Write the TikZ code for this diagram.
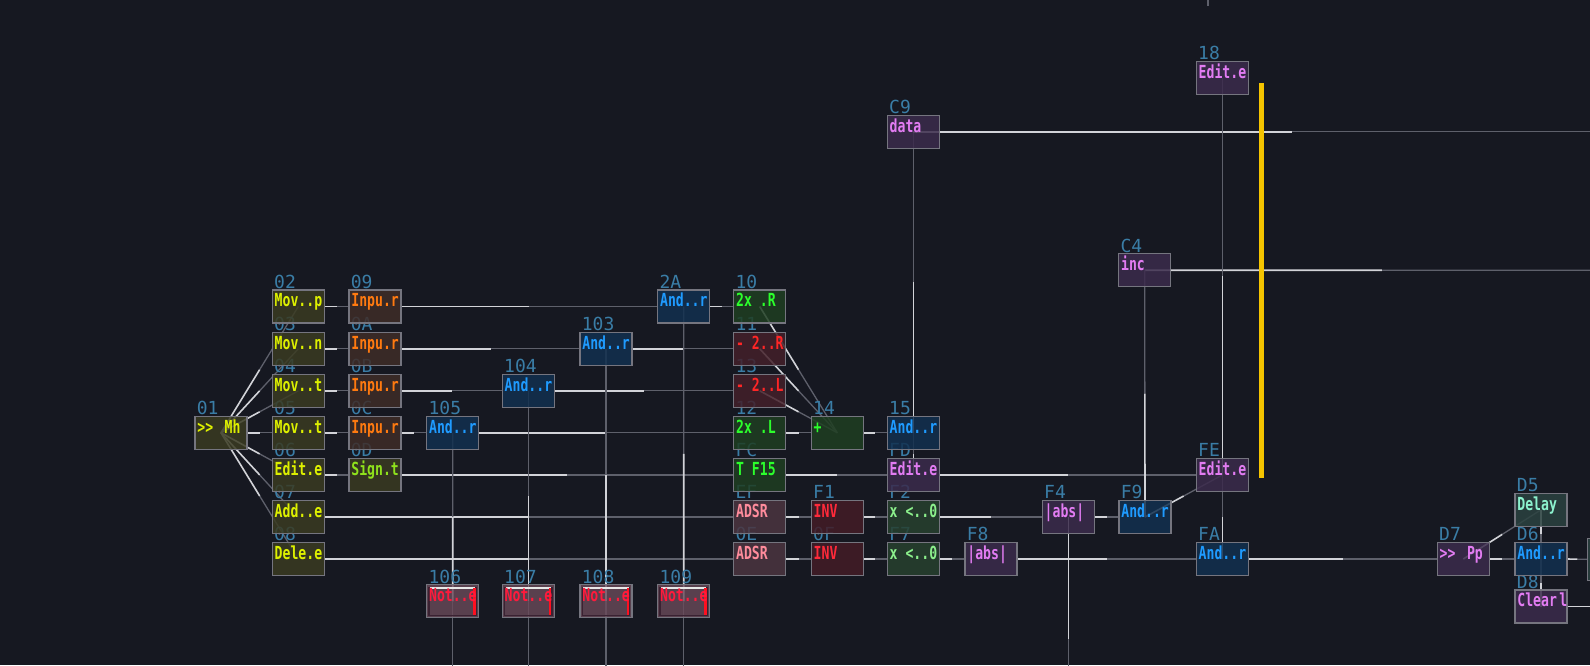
\documentclass[tikz,border=0pt]{standalone}
\usepackage{fontspec}
\usetikzlibrary{calc}
\newfontfamily\monof{DejaVu Sans Mono}
\newfontfamily\boxf[FakeStretch=0.73]{DejaVu Sans Mono Bold}
\definecolor{bgc}{HTML}{161821}
\definecolor{labc}{HTML}{3A7DA6}
\definecolor{boxline}{HTML}{75757F}
\definecolor{wbright}{HTML}{D2D3D8}
\definecolor{wdim}{HTML}{5E606B}
\definecolor{fyel}{HTML}{3A3B22}\definecolor{tyel}{HTML}{DDF000}
\definecolor{forg}{HTML}{3F2C27}\definecolor{torg}{HTML}{FF7A10}
\definecolor{tsgn}{HTML}{8FE21C}
\definecolor{fblu}{HTML}{12304F}\definecolor{tblu}{HTML}{1F9BFF}
\definecolor{fgrn}{HTML}{1F3E22}\definecolor{tgrn}{HTML}{2CFF2C}
\definecolor{frd}{HTML}{43202A}\definecolor{trd}{HTML}{FF2626}
\definecolor{fads}{HTML}{4B3540}\definecolor{tads}{HTML}{FF8C9C}
\definecolor{finv}{HTML}{431C26}\definecolor{tinv}{HTML}{FF2A3A}
\definecolor{fxlt}{HTML}{27402F}\definecolor{txlt}{HTML}{8CF08C}
\definecolor{fpur}{HTML}{3B2B4C}\definecolor{tpur}{HTML}{E27CF2}
\definecolor{ftea}{HTML}{2B4240}\definecolor{ttea}{HTML}{8CF2CE}
\definecolor{fnot}{HTML}{6A4A5A}\definecolor{tnot}{HTML}{FF1A3C}
\definecolor{notin}{HTML}{3A2232}\definecolor{notbar}{HTML}{FF1020}
\definecolor{notline}{HTML}{E8E8E8}
\definecolor{ylw}{HTML}{F5C400}
\pgfdeclarelayer{bg}\pgfdeclarelayer{wires}\pgfdeclarelayer{labels}
\pgfsetlayers{bg,wires,labels,main}
\tikzset{
 box/.style={draw=boxline, line width=0.65pt, fill opacity=0.85, minimum width=26pt,
   minimum height=16.5pt, inner sep=0pt, outer sep=0pt, anchor=north west},
 idlab/.style={text=labc, font=\monof\fontsize{9}{9}\selectfont, inner sep=0pt, anchor=base west},
 btxt/.style={font=\boxf\fontsize{9}{9}\selectfont, inner sep=0pt, anchor=base west},
 wb/.style={draw=wbright, line width=0.8pt},
 wd/.style={draw=wdim, line width=0.65pt},
 cyel/.style={fill=fyel}, cyel t/.style={text=tyel},
 corg/.style={fill=forg}, corg t/.style={text=torg},
 csgn/.style={fill=fyel}, csgn t/.style={text=tsgn},
 cblu/.style={fill=fblu}, cblu t/.style={text=tblu},
 cgrn/.style={fill=fgrn}, cgrn t/.style={text=tgrn},
 crd/.style={fill=frd}, crd t/.style={text=trd},
 cads/.style={fill=fads}, cads t/.style={text=tads},
 cinv/.style={fill=finv}, cinv t/.style={text=tinv},
 cxlt/.style={fill=fxlt}, cxlt t/.style={text=txlt},
 cpur/.style={fill=fpur}, cpur t/.style={text=tpur},
 ctea/.style={fill=ftea}, ctea t/.style={text=ttea},
 cnot/.style={fill=fnot, fill opacity=0.8}, cnot t/.style={text=tnot},
}
\newcommand\blk[6]{%
 \node[box,#6] (#1) at (#2,#3) {};
 \node[btxt,#6 t] (#1t) at ($(#1.north west)+(2,16.7)$) {#5};
 \begin{pgfonlayer}{labels}\node[idlab] (#1l) at ($(#1.north west)+(1.5,-1.7)$) {#4};\end{pgfonlayer}%
}
\newcommand\notblk[4]{%
 \node[box,cnot] (#1) at (#2,#3) {};
 \draw[notin, line width=0.6pt] ($(#1.north west)+(2.3,2.3)$) rectangle ($(#1.south east)+(-2.3,-2.3)$);
 \draw[notline, line width=0.75pt] ($(#1.north west)+(3.3,3.3)$) -- ($(#1.north east)+(-3.5,3.3)$);
 \fill[notbar] ($(#1.north east)+(-5.4,3.3)$) rectangle ($(#1.south east)+(-3,-2.6)$);
 \node[btxt,cnot t] (#1t) at ($(#1.north west)+(2,16.7)$) {Not..e};
 \begin{pgfonlayer}{labels}\node[idlab] (#1l) at ($(#1.north west)+(1.5,-1.7)$) {#4};\end{pgfonlayer}%
}
\newcommand\wire[2]{%
 \begin{pgfonlayer}{wires}
 \draw[wd] ($(#1)!0.5!(#2)$) -- (#2);
 \draw[wb] (#1) -- ($(#1)!0.5!(#2)$);
 \end{pgfonlayer}%
}
\begin{document}
\begin{tikzpicture}[x=0.5pt,y=-0.5pt]
\useasboundingbox (0,0) rectangle (1590,665);
\begin{pgfonlayer}{bg}
\fill[bgc] (0,0) rectangle (1590,665);
\end{pgfonlayer}
\def\ra{290}\def\rb{332.3}\def\rc{374.3}\def\rd{416.3}
\def\re{458.5}\def\rf{500.5}\def\rg{542.5}\def\rh{584.8}
% column 1-2
\blk{n01}{195}{\rd}{01}{{>}{>}\hspace{0.2em} Mh}{cyel}
\blk{n02}{272.3}{\ra}{02}{Mov..p}{cyel}
\blk{n03}{272.3}{\rb}{03}{Mov..n}{cyel}
\blk{n04}{272.3}{\rc}{04}{Mov..t}{cyel}
\blk{n05}{272.3}{\rd}{05}{Mov..t}{cyel}
\blk{n06}{272.3}{\re}{06}{Edit.e}{cyel}
\blk{n07}{272.3}{\rf}{07}{Add..e}{cyel}
\blk{n08}{272.3}{\rg}{08}{Dele.e}{cyel}
\blk{n09}{349}{\ra}{09}{Inpu.r}{corg}
\blk{n0A}{349}{\rb}{0A}{Inpu.r}{corg}
\blk{n0B}{349}{\rc}{0B}{Inpu.r}{corg}
\blk{n0C}{349}{\rd}{0C}{Inpu.r}{corg}
\blk{n0D}{349}{\re}{0D}{Sign.t}{csgn}
% and / not
\blk{n105}{426.7}{\rd}{105}{And..r}{cblu}
\blk{n104}{502.3}{\rc}{104}{And..r}{cblu}
\blk{n103}{580}{\rb}{103}{And..r}{cblu}
\blk{n2A}{657.7}{\ra}{2A}{And..r}{cblu}
\notblk{n106}{426.7}{\rh}{106}
\notblk{n107}{502.3}{\rh}{107}
\notblk{n108}{580}{\rh}{108}
\notblk{n109}{657.7}{\rh}{109}
% middle
\blk{n10}{733.7}{\ra}{10}{2x .R}{cgrn}
\blk{n11}{733.7}{\rb}{11}{- 2..R}{crd}
\blk{n13}{733.7}{\rc}{13}{- 2..L}{crd}
\blk{n12}{733.7}{\rd}{12}{2x .L}{cgrn}
\blk{nFC}{733.7}{\re}{FC}{T F15}{cgrn}
\blk{nEF}{733.7}{\rf}{EF}{ADSR}{cads}
\blk{n0E}{733.7}{\rg}{0E}{ADSR}{cads}
\blk{n14}{811.3}{\rd}{14}{+}{cgrn}
\blk{nF1}{811.3}{\rf}{F1}{INV}{cinv}
\blk{n0F}{811.3}{\rg}{0F}{INV}{cinv}
\blk{nC9}{887.3}{115.3}{C9}{data}{cpur}
\blk{n15}{887.3}{\rd}{15}{And..r}{cblu}
\blk{nFD}{887.3}{\re}{FD}{Edit.e}{cpur}
\blk{nF2}{887.3}{\rf}{F2}{x <..0}{cxlt}
\blk{nF7}{887.3}{\rg}{F7}{x <..0}{cxlt}
\blk{nF8}{965}{\rg}{F8}{|abs|}{cpur}
\blk{nF4}{1042.3}{\rf}{F4}{|abs|}{cpur}
\blk{nC4}{1118.7}{253.7}{C4}{inc}{cpur}
\blk{nF9}{1119}{\rf}{F9}{And..r}{cblu}
\blk{n18}{1196.3}{61.3}{18}{Edit.e}{cpur}
\blk{nFE}{1196.3}{\re}{FE}{Edit.e}{cpur}
\blk{nFA}{1196.3}{\rg}{FA}{And..r}{cblu}
\blk{nD7}{1437.3}{\rg}{D7}{{>}{>}\hspace{0.2em} Pp}{cpur}
\blk{nD5}{1515}{493.3}{D5}{Delay}{ctea}
\blk{nD6}{1515}{\rg}{D6}{And..r}{cblu}
\blk{nD8}{1515}{590}{D8}{Clear\hspace{-0.3em} l}{cpur}
\node[box,ctea,minimum width=30pt,minimum height=21pt] (nR) at (1587.7,538.3) {};
% free ends
\coordinate (cC9r) at (1671,131.8);
\coordinate (cC4r) at (1619,270.2);
\coordinate (cF4b) at (1068.3,760);
\coordinate (cD8r) at (1640,606.5);
\coordinate (c106b) at (452.7,680);
\coordinate (c107b) at (528.3,680);
\coordinate (c108b) at (606,680);
\coordinate (c109b) at (683.7,680);
\coordinate (ctA) at (1208,0);
\coordinate (ctB) at (1208,6);
\coordinate (cY1) at (1261.7,83);
\coordinate (cY2) at (1261.7,478);
% fan from 01
\wire{n01.center}{n02.center}
\wire{n01.center}{n03.center}
\wire{n01.center}{n04.center}
\wire{n01.center}{n06.center}
\wire{n01.center}{n07.center}
\wire{n01.center}{n08.center}
\wire{n01.east}{n05.west}
% rows
\wire{n02.east}{n09.west}
\wire{n09.east}{n2A.west}
\wire{n2A.east}{n10.west}
\wire{n03.east}{n0A.west}
\wire{n0A.east}{n103.west}
\wire{n103.east}{n11.west}
\wire{n04.east}{n0B.west}
\wire{n0B.east}{n104.west}
\wire{n104.east}{n13.west}
\wire{n05.east}{n0C.west}
\wire{n0C.east}{n105.west}
\wire{n105.east}{n12.west}
\wire{n12.east}{n14.west}
\wire{n14.east}{n15.west}
\wire{n06.east}{n0D.west}
\wire{n0D.east}{nFC.west}
\wire{nFC.east}{nFD.west}
\wire{nFD.east}{nFE.west}
\wire{n07.east}{nEF.west}
\wire{nEF.east}{nF1.west}
\wire{nF1.east}{nF2.west}
\wire{nF2.east}{nF4.west}
\wire{nF4.east}{nF9.west}
\wire{n08.east}{n0E.west}
\wire{n0E.east}{n0F.west}
\wire{n0F.east}{nF7.west}
\wire{nF7.east}{nF8.west}
\wire{nF8.east}{nFA.west}
\wire{nFA.east}{nD7.west}
\wire{nD7.east}{nD6.west}
\wire{nD6.east}{nR.west}
% into 14
\wire{n10.center}{n14.center}
\wire{n11.center}{n14.center}
\wire{n13.center}{n14.center}
% verticals
\wire{n106.center}{n105.center}
\wire{n107.center}{n104.center}
\wire{n108.center}{n103.center}
\wire{n109.center}{n2A.center}
\wire{n15.center}{nC9.center}
\wire{nFD.center}{n15.center}
\wire{nC9.center}{cC9r}
\wire{nC4.center}{cC4r}
\wire{nF9.center}{nC4.center}
\wire{nFE.center}{n18.center}
\wire{nFA.center}{nFE.center}
\wire{nF9.center}{nFE.center}
\wire{nF4.center}{cF4b}
\wire{nD7.center}{nD5.center}
\wire{nD5.center}{nD6.center}
\wire{nD8.center}{nD6.center}
\wire{nD8.east}{cD8r}
\begin{pgfonlayer}{wires}
\draw[wd] (n106.center) -- (c106b);
\draw[wd] (n107.center) -- (c107b);
\draw[wd] (n108.center) -- (c108b);
\draw[wd] (n109.center) -- (c109b);
\draw[wd] (ctA) -- (ctB);
\end{pgfonlayer}
% yellow bar
\draw[ylw, line width=2.25pt] (cY1) -- (cY2);
\end{tikzpicture}
\end{document}
